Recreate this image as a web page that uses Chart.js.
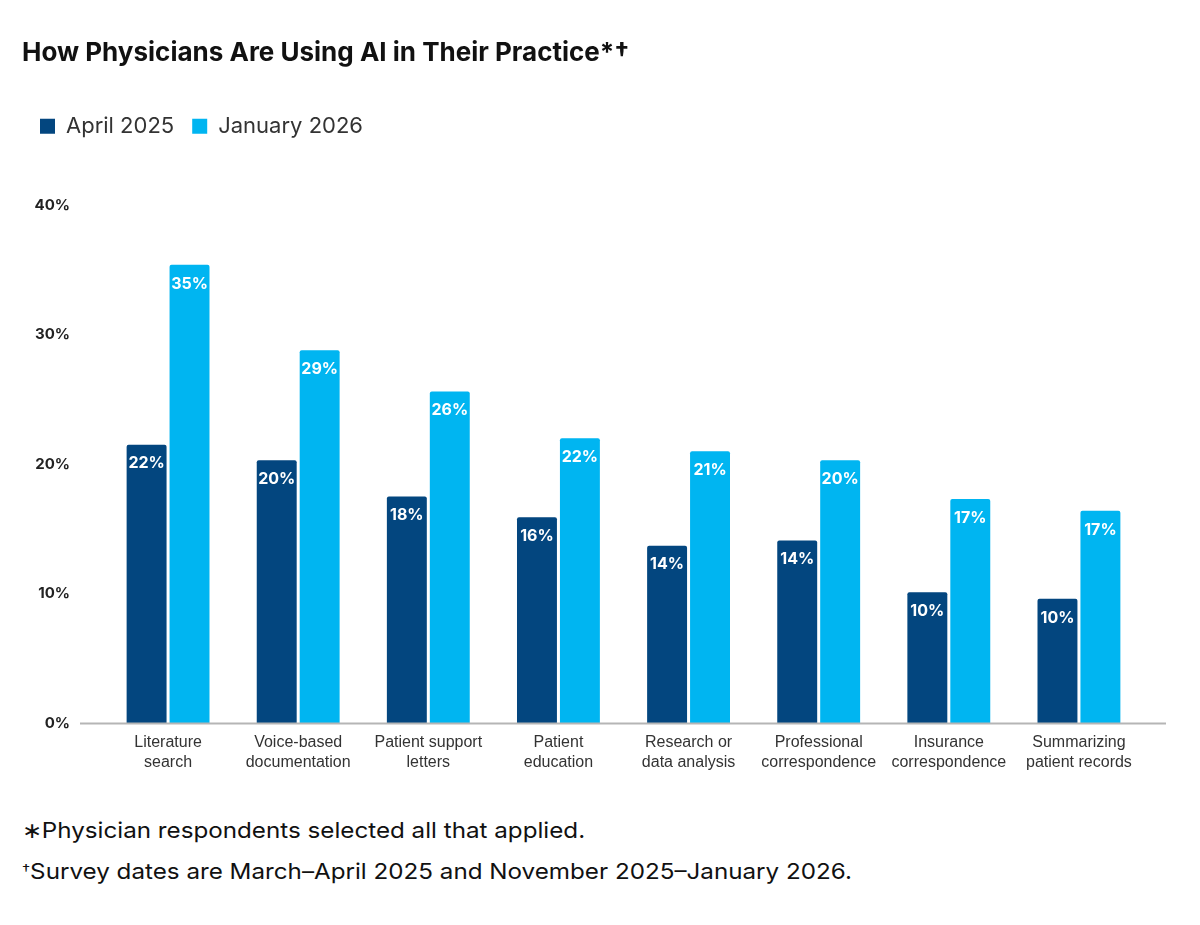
<!DOCTYPE html>
<html>
<head>
<meta charset="utf-8">
<script src="https://cdn.jsdelivr.net/npm/chart.js@4.4.1/dist/chart.umd.min.js"></script>
<style>
  html, body { margin: 0; padding: 0; background: #fff; }
  #wrap { position: absolute; left: 0; top: 0; width: 1200px; height: 800px; }
  .note { position: absolute; left: 22px; font-family: Inter, "Noto Sans", sans-serif; font-size: 22px; color: #111; white-space: nowrap; transform: scaleX(1.1); transform-origin: left top; }
  .dag { font-size: 15px; position: relative; top: -4px; }
</style>
</head>
<body>
<div id="wrap"><canvas id="myChart"></canvas></div>
<div class="note" style="top:817px">∗Physician respondents selected all that applied.</div>
<div class="note" style="top:858px"><span class="dag">†</span>Survey dates are March–April 2025 and November 2025–January 2026.</div>
<script>
const categories = [
  ['Literature', 'search'],
  ['Voice-based', 'documentation'],
  ['Patient support', 'letters'],
  ['Patient', 'education'],
  ['Research or', 'data analysis'],
  ['Professional', 'correspondence'],
  ['Insurance', 'correspondence'],
  ['Summarizing', 'patient records']
];
// bar heights
const april2025 = [21.5, 20.3, 17.5, 15.9, 13.7, 14.1, 10.1, 9.6];
const january2026 = [35.4, 28.8, 25.6, 22.0, 21.0, 20.3, 17.3, 16.4];
// printed labels
const aprilLabels = [22, 20, 18, 16, 14, 14, 10, 10];
const januaryLabels = [35, 29, 26, 22, 21, 20, 17, 17];
const yTicks = [0, 10, 20, 30, 40];

const shownLabels = [aprilLabels, januaryLabels];

const valueLabels = {
  id: 'valueLabels',
  afterDatasetsDraw(chart) {
    const ctx = chart.ctx;
    ctx.save();
    ctx.fillStyle = '#ffffff';
    ctx.font = 'bold 16px Inter, "Noto Sans", sans-serif';
    ctx.textAlign = 'center';
    ctx.textBaseline = 'middle';
    chart.data.datasets.forEach(function(ds, i) {
      chart.getDatasetMeta(i).data.forEach(function(bar, j) {
        ctx.fillText(shownLabels[i][j] + '%', bar.x, bar.y + 19);
      });
    });
    ctx.restore();
  }
};

const baseLine = {
  id: 'baseLine',
  afterDatasetsDraw(chart) {
    const ctx = chart.ctx;
    const y = Math.round(chart.scales.y.getPixelForValue(0)) + 0.5;
    ctx.save();
    ctx.strokeStyle = '#b5b5b5';
    ctx.lineWidth = 2;
    ctx.beginPath();
    ctx.moveTo(chart.chartArea.left - 23, y);
    ctx.lineTo(chart.chartArea.right + 22, y);
    ctx.stroke();
    ctx.restore();
  }
};

const legendGap = {
  id: 'legendGap',
  beforeInit(chart) {
    const fit = chart.legend.fit;
    chart.legend.fit = function() {
      fit.bind(chart.legend)();
      this.height += 58;
    };
  }
};

const data = {
  labels: categories,
  datasets: [{
    label: 'April 2025',
    data: april2025,
    backgroundColor: '#03467f',
    borderRadius: { topLeft: 2, topRight: 2 },
    borderSkipped: 'start',
    categoryPercentage: 0.66,
    barPercentage: 0.93
  }, {
    label: 'January 2026',
    data: january2026,
    backgroundColor: '#00b5f1',
    borderRadius: { topLeft: 2, topRight: 2 },
    borderSkipped: 'start',
    categoryPercentage: 0.66,
    barPercentage: 0.93
  }]
};

const config = {
  type: 'bar',
  data: data,
  plugins: [legendGap, baseLine, valueLabels],
  options: {
    responsive: true,
    maintainAspectRatio: false,
    animation: false,
    layout: { padding: { left: 22, right: 56, top: 38, bottom: 0 } },
    plugins: {
      title: {
        display: true,
        text: 'How Physicians Are Using AI in Their Practice*†',
        align: 'start',
        color: '#111',
        font: { family: 'Inter', size: 26, weight: 'bold' },
        padding: { top: 0, bottom: 28 }
      },
      legend: {
        display: true,
        align: 'start',
        labels: {
          boxWidth: 15,
          boxHeight: 15,
          padding: 18,
          color: '#333',
          font: { family: 'Inter', size: 22 }
        }
      },
      tooltip: { enabled: false }
    },
    scales: {
      x: {
        grid: { display: false, drawTicks: false },
        border: { display: false },
        ticks: {
          color: '#333',
          padding: 10,
          maxRotation: 0,
          autoSkip: false,
          font: { family: '"Liberation Sans", Arial, sans-serif', size: 16, lineHeight: 1.25 }
        },
        afterFit(scale) { scale.height = 77; }
      },
      y: {
        min: 0,
        max: 40,
        afterBuildTicks(scale) { scale.ticks = yTicks.map(v => ({ value: v })); },
        grid: { display: false, drawTicks: false },
        border: { display: false },
        ticks: {
          color: '#222',
          padding: 33,
          font: { family: 'Inter', size: 15, weight: 'bold' },
          callback: v => v + '%'
        },
        afterFit(scale) { scale.width = 81; }
      }
    }
  }
};

const myChart = new Chart('myChart', config);
</script>
</body>
</html>
